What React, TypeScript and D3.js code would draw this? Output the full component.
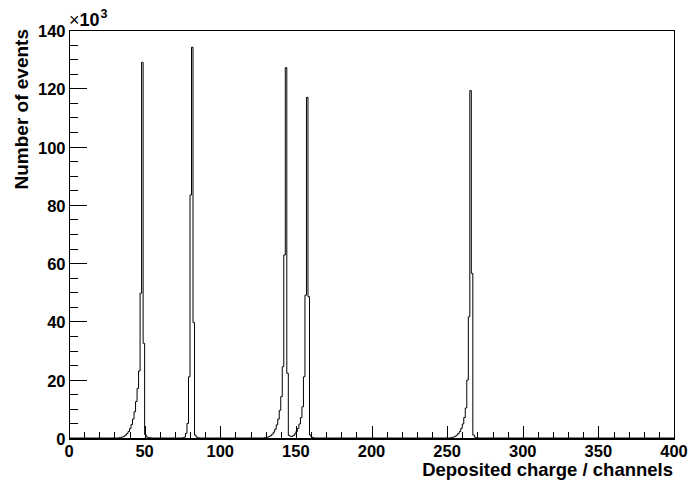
import React from 'react';
import { scaleLinear, line, curveStepAfter, range } from 'd3';

// histogram: 400 bins of 1 channel, counts in thousands
const nBins = 400;
const xTicks = [0, 50, 100, 150, 200, 250, 300, 350, 400];
const yTicks = [0, 20, 40, 60, 80, 100, 120, 140];

// each peak: first channel + counts per channel (x10^3)
const peak1Start = 33;
const peak1 = [0.1, 0.2, 0.35, 0.6, 1.0, 1.5, 2.2, 3.2, 4.6, 6.5, 9, 12.5, 17, 23, 49.7, 128.9, 32.5, 1.2, 0.4, 0.2, 0.1];
const peak2Start = 75;
const peak2 = [0.1, 0.3, 1.6, 5, 21, 83.4, 134.1, 39.6, 1.0, 0.3, 0.1];
const peak3Start = 129;
const peak3 = [0.1, 0.15, 0.3, 0.5, 0.8, 1.3, 2.0, 3.0, 4.5, 6.5, 9.5, 14.2, 24.5, 62.8, 127.1, 22.2, 0.8, 0.3];
const peak4Start = 145;
const peak4 = [0.1, 0.3, 0.5, 0.9, 1.4, 2.2, 3.3, 4.8, 7, 10.7, 21, 49, 116.9, 48.5, 1.0, 0.3, 0.1];
const peak5Start = 252;
const peak5 = [0.1, 0.2, 0.35, 0.6, 1.0, 1.5, 2.2, 3.3, 4.8, 7, 10.3, 19.9, 41.6, 119.2, 56.5, 1.0, 0.3, 0.1];

const peaks: [number, number[]][] = [
  [peak1Start, peak1],
  [peak2Start, peak2],
  [peak3Start, peak3],
  [peak4Start, peak4],
  [peak5Start, peak5],
];

const counts = new Array(nBins).fill(0);
peaks.forEach(([start, vals]) => {
  vals.forEach((v, i) => {
    counts[start + i] += v;
  });
});

const W = 694, H = 489;
const left = 69, right = 674, top = 30, bottom = 438;
const font = '"Liberation Sans", Arial, Helvetica, sans-serif';

export default function App() {
  const x = scaleLinear().domain([0, 400]).range([left, right]);
  const y = scaleLinear().domain([0, 140]).range([bottom, top]);

  const pts: [number, number][] = counts.map((c, i) => [i, c]);
  pts.push([nBins, counts[nBins - 1]]);
  const histLine = line<[number, number]>()
    .x(d => x(d[0]))
    .y(d => y(d[1]))
    .curve(curveStepAfter);

  const xMinor = range(0, 401, 10);
  const yMinor = range(0, 141, 5);
  const xMajLen = 12, xMinLen = 6;
  const yMajLen = 18, yMinLen = 9;

  return (
    <svg width={W} height={H} style={{ position: 'absolute', left: 0, top: 0, background: '#fff' }}>
      <rect x={0} y={0} width={W} height={H} fill="#fff" />
      <path d={histLine(pts) || ''} fill="none" stroke="#000" strokeWidth={1} />
      {/* frame */}
      <rect x={left + 0.5} y={top + 0.5} width={right - left} height={bottom - top}
        fill="none" stroke="#000" strokeWidth={1} shapeRendering="crispEdges" />
      <line x1={left} x2={right + 1} y1={bottom + 0.5} y2={bottom + 0.5} stroke="#000" strokeWidth={2} shapeRendering="crispEdges" />
      {/* x ticks */}
      {xMinor.map(t => (
        <line key={'xt' + t} x1={x(t) + 0.5} x2={x(t) + 0.5} y1={bottom}
          y2={bottom - (t % 50 === 0 ? xMajLen : xMinLen)} stroke="#000" shapeRendering="crispEdges" />
      ))}
      {/* y ticks */}
      {yMinor.map(t => (
        <line key={'yt' + t} x1={left} x2={left + (t % 20 === 0 ? yMajLen : yMinLen)}
          y1={y(t) + 0.5} y2={y(t) + 0.5} stroke="#000" shapeRendering="crispEdges" />
      ))}
      <g fontFamily={font} fontWeight="bold" fontSize={16.5} fill="#000">
        {xTicks.map(t => (
          <text key={'xl' + t} x={x(t)} y={457} textAnchor="middle">{t}</text>
        ))}
        {yTicks.map(t => (
          <text key={'yl' + t} x={65.5} y={y(t) + 7} textAnchor="end">{t}</text>
        ))}
      </g>
      <g fontFamily={font} fontWeight="bold" fill="#000">
        <text x={673} y={476} textAnchor="end" fontSize={18.5}>Deposited charge / channels</text>
        <text transform={`translate(28,${top - 1}) rotate(-90)`} textAnchor="end" fontSize={19}>Number of events</text>
        <text x={69} y={26} fontSize={18} fontWeight="normal">×<tspan fontWeight="bold">10</tspan></text>
        <text x={100.5} y={18} fontSize={12.5}>3</text>
      </g>
    </svg>
  );
}
